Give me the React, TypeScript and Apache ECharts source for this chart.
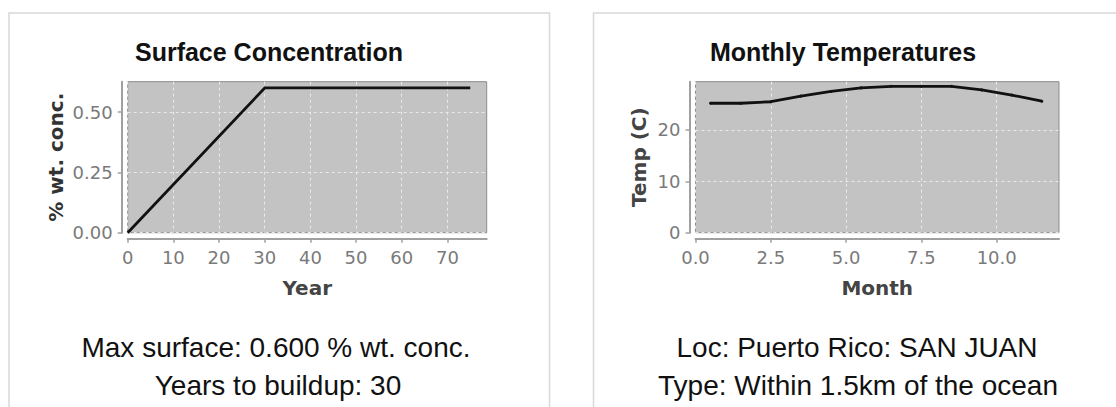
import React, { useEffect, useRef } from "react";
import * as echarts from "echarts";

// ---- data ----
const concYears = [0, 30, 75];
const concValues = [0, 0.6, 0.6];
const concXTicks = [0, 10, 20, 30, 40, 50, 60, 70];
const concYTicks = [0, 0.25, 0.5];

const months = [0.5, 1.5, 2.5, 3.5, 4.5, 5.5, 6.5, 7.5, 8.5, 9.5, 10.5, 11.5];
const temps = [25.2, 25.2, 25.5, 26.6, 27.5, 28.2, 28.5, 28.5, 28.5, 27.8, 26.8, 25.6];
const tempXTicks = [0, 2.5, 5, 7.5, 10];
const tempYTicks = [0, 10, 20];

const leftTitle = "Surface Concentration";
const rightTitle = "Monthly Temperatures";
const leftNotes = ["Max surface: 0.600 % wt. conc.", "Years to buildup: 30"];
const rightNotes = ["Loc: Puerto Rico: SAN JUAN", "Type: Within 1.5km of the ocean"];

const tickFont = { fontFamily: "DejaVu Sans", fontSize: 18, color: "#7a7a7a" };
const nameFont = { fontFamily: "DejaVu Sans", fontSize: 20, fontWeight: "bold" as const, color: "#444" };
const splitLine = { show: true, lineStyle: { color: "#e9e9e9", width: 1, type: [3, 3] as any } };
const axisLine = { show: true, onZero: false, lineStyle: { color: "#a0a0a0", width: 2 } };
const axisTick = (vals: number[]) => ({ show: true, length: 4, customValues: vals, lineStyle: { color: "#a0a0a0", width: 1.5 } });

export default function App() {
  const ref = useRef<HTMLDivElement>(null);
  useEffect(() => {
    const chart = echarts.init(ref.current!, null, { renderer: "svg" });
    const gridBase = { show: true, backgroundColor: "#c3c3c3", borderColor: "#8c8c8c", borderWidth: 1, containLabel: false };
    const text = (x: number, y: number, t: string, size: number, bold: boolean) => ({
      type: "text",
      x,
      y,
      style: {
        text: t,
        fill: "#111",
        font: `${bold ? "bold " : ""}${size}px "Liberation Sans", Arial, sans-serif`,
        align: "center",
        verticalAlign: "middle",
      },
    });
    chart.setOption({
      animation: false,
      grid: [
        { ...gridBase, left: 127.7, top: 81.7, width: 359, height: 151 },
        { ...gridBase, left: 695.5, top: 81.7, width: 363.5, height: 151 },
      ],
      xAxis: [
        {
          type: "value", gridIndex: 0, min: 0, max: 78.6, interval: 10, offset: 6,
          name: "Year", nameLocation: "middle", nameGap: 39, nameTextStyle: nameFont,
          axisLine, axisTick: axisTick(concXTicks), splitLine,
          axisLabel: { ...tickFont, margin: 10, customValues: concXTicks, formatter: (v: number) => String(v) },
        },
        {
          type: "value", gridIndex: 1, min: 0, max: 12.07, interval: 2.5, offset: 6,
          name: "Month", nameLocation: "middle", nameGap: 39, nameTextStyle: nameFont,
          axisLine, axisTick: axisTick(tempXTicks), splitLine,
          axisLabel: { ...tickFont, margin: 10, customValues: tempXTicks, formatter: (v: number) => v.toFixed(1) },
        },
      ],
      yAxis: [
        {
          type: "value", gridIndex: 0, min: 0, max: 0.626, interval: 0.25, offset: 6,
          name: "% wt. conc.", nameLocation: "middle", nameGap: 56, nameTextStyle: { ...nameFont, color: "#333" },
          axisLine, axisTick: axisTick(concYTicks), splitLine,
          axisLabel: { ...tickFont, margin: 9, customValues: concYTicks, formatter: (v: number) => v.toFixed(2) },
        },
        {
          type: "value", gridIndex: 1, min: 0, max: 29.4, interval: 10, offset: 6,
          name: "Temp (C)", nameLocation: "middle", nameGap: 41, nameTextStyle: nameFont,
          axisLine, axisTick: axisTick(tempYTicks), splitLine,
          axisLabel: { ...tickFont, margin: 9, customValues: tempYTicks, formatter: (v: number) => String(v) },
        },
      ],
      series: [
        {
          type: "line", xAxisIndex: 0, yAxisIndex: 0,
          data: concYears.map((x, i) => [x, concValues[i]]),
          showSymbol: false, lineStyle: { color: "#111", width: 2.8 },
        },
        {
          type: "line", xAxisIndex: 1, yAxisIndex: 1,
          data: months.map((x, i) => [x, temps[i]]),
          symbol: "circle", symbolSize: 3, itemStyle: { color: "#111" },
          lineStyle: { color: "#111", width: 2.8 },
        },
      ],
      graphic: [
        { type: "rect", shape: { x: 9, y: 13, width: 540.5, height: 420 }, style: { fill: "none", stroke: "#d8d8d8", lineWidth: 1.5 }, z: -1 },
        { type: "rect", shape: { x: 593.5, y: 13, width: 540, height: 420 }, style: { fill: "none", stroke: "#d8d8d8", lineWidth: 1.5 }, z: -1 },
        text(269, 52, leftTitle, 25, true),
        text(843, 52, rightTitle, 25, true),
        text(276, 347.5, leftNotes[0], 28, false),
        text(278, 385, leftNotes[1], 28, false),
        text(857, 347.5, rightNotes[0], 28, false),
        text(858, 385, rightNotes[1], 28, false),
      ],
    });
    return () => chart.dispose();
  }, []);
  return <div ref={ref} style={{ position: "absolute", left: 0, top: 0, width: 1116, height: 407 }} />;
}
